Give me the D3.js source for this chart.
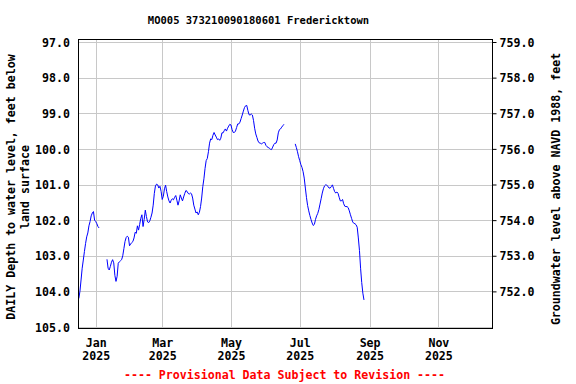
<!DOCTYPE html>
<html><head><meta charset="utf-8">
<script src="https://cdn.jsdelivr.net/npm/d3@7/dist/d3.min.js"></script>
<style>body{margin:0;background:#fff}svg{display:block}</style></head>
<body><svg id="c" width="576" height="384"></svg>
<script>
const title = "MO005 373210090180601 Fredericktown";
const leftTitle = ["DAILY Depth to water level, feet below", "land surface"];
const rightTitle = "Groundwater level above NAVD 1988, feet";
const footer = "---- Provisional Data Subject to Revision ----";
const landSurface = 856.0;
const depthTicks = [97, 98, 99, 100, 101, 102, 103, 104, 105];
const elevTicks = [752, 753, 754, 755, 756, 757, 758, 759];
const monthTicks = ["2025-01-01", "2025-03-01", "2025-05-01", "2025-07-01", "2025-09-01", "2025-11-01"];

const seg1Start = "2024-12-17";
const seg1 = [104.2, 104.0, 103.68, 103.35, 103.12, 102.88, 102.66, 102.47, 102.36, 102.16, 102.04, 101.88, 101.80, 101.76, 102.0, 102.04, 102.10, 102.18, 102.22];

const seg2Start = "2025-01-11";
const seg2 = [
103.10, 103.35, 103.40, 103.30, 103.18, 103.11, 103.20, 103.55, 103.72, 103.58,
103.21, 103.17, 103.14, 103.11, 103.00, 102.80, 102.60, 102.49, 102.45, 102.48,
102.72, 102.67, 102.63, 102.60, 102.50, 102.34, 102.37, 102.16, 102.28, 102.12,
101.95, 101.85, 102.18, 101.98, 101.72, 101.90, 102.05, 102.07, 102.02, 101.92,
101.80, 101.58, 101.25, 101.04, 100.99, 101.01, 101.10, 101.05, 101.19, 101.42,
101.33, 101.12, 101.02, 101.20, 101.35, 101.46, 101.52, 101.44, 101.40, 101.43,
101.36, 101.31, 101.44, 101.58, 101.46, 101.29, 101.38, 101.46, 101.35, 101.25,
101.17, 101.19, 101.25, 101.27, 101.24, 101.26, 101.38, 101.58, 101.69, 101.80,
101.77, 101.85, 101.78, 101.62, 101.38, 101.06, 100.84, 100.55, 100.33, 100.27,
100.08, 99.84, 99.72, 99.74, 99.62, 99.54, 99.61, 99.67, 99.74, 99.72,
99.76, 99.70, 99.55, 99.55, 99.49, 99.44, 99.50, 99.42, 99.36, 99.31,
99.33, 99.46, 99.54, 99.54, 99.50, 99.40, 99.30, 99.30, 99.25, 99.15,
99.05, 98.94, 98.84, 98.79, 98.78, 98.92, 99.04, 99.05, 99.02, 99.05,
99.20, 99.42, 99.58, 99.68, 99.78, 99.83, 99.84, 99.86, 99.84, 99.82,
99.82, 99.90, 99.94, 99.96, 99.98, 100.01, 100.02, 99.95, 99.88, 99.84,
99.84, 99.75, 99.55, 99.46, 99.44, 99.39, 99.35, 99.31];

const seg3Start = "2025-06-27";
const seg3 = [
99.86, 99.96, 100.08, 100.22, 100.33, 100.44, 100.52, 100.64, 100.82, 101.10,
101.37, 101.59, 101.74, 101.87, 101.98, 102.08, 102.15, 102.12, 101.98, 101.88,
101.81, 101.70, 101.55, 101.40, 101.24, 101.12, 101.04, 101.01, 101.02, 101.05,
101.10, 101.10, 101.06, 101.01, 101.11, 101.20, 101.24, 101.21, 101.25, 101.36,
101.46, 101.46, 101.42, 101.54, 101.61, 101.62, 101.62, 101.65, 101.74, 101.85,
101.95, 102.05, 102.09, 102.10, 102.13, 102.20, 102.50, 102.85, 103.35, 103.75,
104.05, 104.24];

const FONT = "'DejaVu Sans Mono', monospace";
const svg = d3.select("#c");
const L = 78, R = 492, T = 40, B = 329;

const x = d3.scaleUtc()
  .domain([new Date(Date.UTC(2024, 11, 16, 7)), new Date(Date.UTC(2025, 11, 18, 14))])
  .range([L, R]);
const y = d3.scaleLinear().domain([97, 105]).range([42, 327]);
const yElev = d3.scaleLinear().domain([landSurface - 97, landSurface - 105]).range([42, 327]);

const parse = d3.utcParse("%Y-%m-%d");
function series(start, vals) {
  const s = parse(start);
  return vals.map((v, i) => ({date: d3.utcDay.offset(s, i), v}));
}
const segs = [series(seg1Start, seg1), series(seg2Start, seg2), series(seg3Start, seg3)];

// grid
const grid = svg.append("g").attr("stroke", "#c8c8c8").attr("stroke-width", 1);
grid.selectAll("line.h").data(depthTicks).join("line")
  .attr("x1", L).attr("x2", R)
  .attr("y1", d => Math.round(y(d)) + 0.5).attr("y2", d => Math.round(y(d)) + 0.5);
grid.selectAll("line.v").data(monthTicks.map(parse)).join("line")
  .attr("y1", T).attr("y2", B)
  .attr("x1", d => Math.round(x(d)) + 0.5).attr("x2", d => Math.round(x(d)) + 0.5);

// data
const line = d3.line().x(d => x(d.date)).y(d => y(d.v));
svg.append("g").selectAll("path").data(segs).join("path")
  .attr("d", line).attr("fill", "none").attr("stroke", "#0000ff").attr("stroke-width", 1);

// frame
svg.append("rect").attr("x", L + 0.5).attr("y", T - 0.5).attr("width", R - L).attr("height", B - T)
  .attr("fill", "none").attr("stroke", "#000").attr("stroke-width", 1);

// left axis
const gl = svg.append("g").attr("transform", `translate(${L},0)`)
  .call(d3.axisLeft(y).tickValues(depthTicks).tickSize(0).tickPadding(8).tickFormat(d3.format(".1f")));
gl.select(".domain").remove();
gl.selectAll("text").attr("font-family", FONT).attr("font-weight", "bold").attr("font-size", "11.6px")
  .attr("fill", "#000").attr("dy", "0.36em");

// right axis
const gr = svg.append("g").attr("transform", `translate(${R + 0.5},0)`)
  .call(d3.axisRight(yElev).tickValues(elevTicks).tickSize(4).tickPadding(3).tickFormat(d3.format(".1f")));
gr.select(".domain").remove();
gr.selectAll("line").attr("stroke", "#000");
gr.selectAll("text").attr("font-family", FONT).attr("font-weight", "bold").attr("font-size", "11.6px")
  .attr("fill", "#000").attr("dy", "0.36em");

// bottom axis
const gb = svg.append("g").attr("transform", `translate(0,${B})`)
  .call(d3.axisBottom(x).tickValues(monthTicks.map(parse)).tickSize(0).tickFormat(d3.utcFormat("%b")));
gb.select(".domain").remove();
gb.selectAll("text").each(function(d) {
  const t = d3.select(this);
  t.text(null).attr("y", 0).attr("dy", null)
   .attr("font-family", FONT).attr("font-weight", "bold").attr("font-size", "11.6px").attr("fill", "#000");
  t.append("tspan").attr("x", 0).attr("y", 18).text(d3.utcFormat("%b")(d));
  t.append("tspan").attr("x", 0).attr("y", 31).text(d3.utcFormat("%Y")(d));
});

// titles
svg.append("text").attr("x", 258.5).attr("y", 24).attr("text-anchor", "middle")
  .attr("font-family", FONT).attr("font-weight", "bold").attr("font-size", "10.5px").text(title);

svg.append("g").selectAll("text").data(leftTitle).join("text")
  .attr("transform", (d, i) => `translate(${i === 0 ? 10.5 : 25},187) rotate(-90)`)
  .attr("text-anchor", "middle").attr("dy", "0.36em")
  .attr("font-family", FONT).attr("font-weight", "bold").attr("font-size", "11.6px").text(d => d);

svg.append("text").attr("transform", "translate(556,189) rotate(-90)")
  .attr("text-anchor", "middle").attr("dy", "0.36em")
  .attr("font-family", FONT).attr("font-weight", "bold").attr("font-size", "11.6px").text(rightTitle);

svg.append("text").attr("x", 284.5).attr("y", 378.5).attr("text-anchor", "middle")
  .attr("font-family", FONT).attr("font-weight", "bold").attr("font-size", "11.6px")
  .attr("fill", "#ff0000").text(footer);
</script></body></html>
